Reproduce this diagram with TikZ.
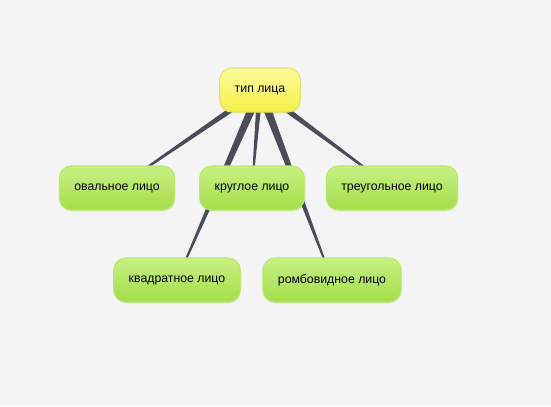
\documentclass[tikz,border=0pt]{standalone}
\usepackage{fontspec}
\setmainfont{Liberation Sans}
\usetikzlibrary{calc,backgrounds,shadows}

\definecolor{linkcol}{HTML}{4A4D57}
\definecolor{leaftop}{HTML}{C8F084}
\definecolor{leafbot}{HTML}{A4DE48}
\definecolor{leafrim}{HTML}{B8E86A}
\definecolor{roottop}{HTML}{FCFC9C}
\definecolor{rootbot}{HTML}{F2F046}
\definecolor{rootrim}{HTML}{E6E266}
\definecolor{paper}{HTML}{F4F4F4}

\begin{document}
\begin{tikzpicture}[x=0.02cm, y=-0.02cm,
    box/.style = {rounded corners=2.4mm, inner xsep=0.3cm, minimum height=0.88cm,
        font=\fontsize{7}{8}\selectfont, line width=0.6pt,
        drop shadow={opacity=0.15, shadow xshift=0.3pt, shadow yshift=-0.8pt}},
    leaf/.style = {box, draw=leafrim, top color=leaftop, bottom color=leafbot},
    topic/.style = {box, draw=rootrim, top color=roottop, bottom color=rootbot}]

    % nodes
    \node[topic] (root) at (260,90) {тип лица};
    \node[leaf] (oval) at (117,188) {овальное лицо};
    \node[leaf] (round) at (252,188) {круглое лицо};
    \node[leaf] (tri) at (392,188) {треугольное лицо};
    \node[leaf] (square) at (177,280) {квадратное лицо};
    \node[leaf] (rhomb) at (332,280) {ромбовидное лицо};

    % links, tapered, behind the boxes
    \begin{scope}[on background layer]
        \fill[paper] (0,0) rectangle (551,406);
        \foreach \c/\w in {oval/1.8pt, round/1.6pt, tri/1.8pt, square/2.4pt, rhomb/2.4pt}
            \fill[linkcol] ($(root)!\w!90:(\c)$) -- ($(\c)!0.35pt!-90:(root)$)
                -- ($(\c)!0.35pt!90:(root)$) -- ($(root)!\w!-90:(\c)$) -- cycle;
    \end{scope}

\end{tikzpicture}
\end{document}
